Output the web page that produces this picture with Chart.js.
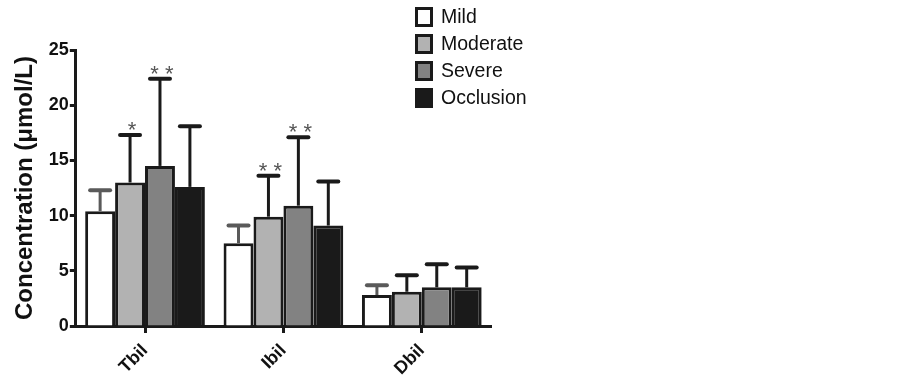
<!DOCTYPE html>
<html>
<head>
<meta charset="utf-8">
<script src="https://cdn.jsdelivr.net/npm/chart.js@4/dist/chart.umd.min.js"></script>
<style>
  body { margin: 0; background: #fff; }
  #wrap { position: relative; width: 902px; height: 384px; }
  #legend { position: absolute; left: 415px; top: 3px; font-family: "Liberation Sans", Arial, sans-serif; font-size: 19.5px; color: #111; }
  .item { display: flex; align-items: center; height: 27px; }
  .box { width: 12px; height: 14px; border: 3px solid #1a1a1a; margin-right: 8px; }
</style>
</head>
<body>
<div id="wrap">
  <canvas id="bilChart" width="902" height="384"></canvas>
  <div id="legend"></div>
</div>
<script>
var categories = ['Tbil', 'Ibil', 'Dbil'];
var seriesNames = ['Mild', 'Moderate', 'Severe', 'Occlusion'];
var mild = [10.4, 7.5, 2.8];
var moderate = [13.0, 9.9, 3.1];
var severe = [14.5, 10.9, 3.5];
var occlusion = [12.6, 9.1, 3.5];
// upper end of each error bar
var mildTop = [12.3, 9.1, 3.7];
var moderateTop = [17.3, 13.6, 4.6];
var severeTop = [22.4, 17.1, 5.6];
var occlusionTop = [18.1, 13.1, 5.3];
// significance marks
var mildStars = ['', '', ''];
var moderateStars = ['*', '* *', ''];
var severeStars = ['* *', '* *', ''];
var occlusionStars = ['', '', ''];
var yTicks = [0, 5, 10, 15, 20, 25];

var fills = ['#ffffff', '#b2b2b2', '#828282', '#1a1a1a'];
var errColors = ['#5a5a5a', '#1a1a1a', '#1a1a1a', '#1a1a1a'];
var values = [mild, moderate, severe, occlusion];
var tops = [mildTop, moderateTop, severeTop, occlusionTop];
var stars = [mildStars, moderateStars, severeStars, occlusionStars];

var legend = document.getElementById('legend');
seriesNames.forEach(function (name, i) {
    var row = document.createElement('div');
    row.className = 'item';
    var box = document.createElement('div');
    box.className = 'box';
    box.style.background = fills[i];
    row.appendChild(box);
    row.appendChild(document.createTextNode(name));
    legend.appendChild(row);
});

var errorBars = {
    id: 'errorBars',
    afterDatasetsDraw: function (chart) {
        var ctx = chart.ctx;
        var y = chart.scales.y;
        ctx.save();
        chart.data.datasets.forEach(function (ds, i) {
            var meta = chart.getDatasetMeta(i);
            meta.data.forEach(function (bar, j) {
                var yTop = y.getPixelForValue(tops[i][j]);
                ctx.strokeStyle = errColors[i];
                ctx.lineWidth = 3;
                ctx.beginPath();
                ctx.moveTo(bar.x, bar.y);
                ctx.lineTo(bar.x, yTop);
                ctx.stroke();
                ctx.lineWidth = 4;
                ctx.lineCap = 'round';
                ctx.beginPath();
                ctx.moveTo(bar.x - 10, yTop);
                ctx.lineTo(bar.x + 10, yTop);
                ctx.stroke();
                ctx.lineCap = 'butt';
                if (stars[i][j]) {
                    ctx.fillStyle = '#555';
                    ctx.font = '22px "Liberation Sans", Arial, sans-serif';
                    ctx.textAlign = 'center';
                    ctx.textBaseline = 'alphabetic';
                    ctx.fillText(stars[i][j], bar.x + 2, yTop + 2);
                }
            });
        });
        ctx.restore();
    }
};

var ctx = document.getElementById('bilChart').getContext('2d');
var bilChart = new Chart(ctx, {
    type: 'bar',
    data: {
        labels: categories,
        datasets: seriesNames.map(function (name, i) {
            return {
                label: name,
                data: values[i],
                backgroundColor: fills[i],
                borderColor: '#1a1a1a',
                borderWidth: 3,
                borderSkipped: 'bottom',
                barPercentage: 1.0,
                categoryPercentage: 0.865
            };
        })
    },
    options: {
        responsive: false,
        animation: false,
        layout: { padding: { top: 50, right: 411, bottom: 0, left: 11 } },
        plugins: { legend: { display: false }, tooltip: { enabled: false } },
        scales: {
            x: {
                afterFit: function (axis) { axis.height = 58; },
                grid: { offset: false, drawOnChartArea: false, tickLength: 7, tickWidth: 3, tickColor: '#1a1a1a' },
                border: { color: '#1a1a1a', width: 3 },
                ticks: {
                    color: '#111', padding: 7,
                    maxRotation: 45, minRotation: 45,
                    font: { family: '"Liberation Sans", Arial, sans-serif', size: 18, weight: 'bold' }
                }
            },
            y: {
                min: 0, max: 25,
                afterBuildTicks: function (axis) {
                    axis.ticks = yTicks.map(function (v) { return { value: v }; });
                },
                grid: { drawOnChartArea: false, tickLength: 6, tickWidth: 3, tickColor: '#1a1a1a' },
                border: { color: '#1a1a1a', width: 3 },
                ticks: {
                    color: '#111', padding: 1,
                    font: { family: '"Liberation Sans", Arial, sans-serif', size: 18, weight: 'bold' }
                },
                title: {
                    display: true,
                    text: 'Concentration (\u03bcmol/L)',
                    color: '#111',
                    padding: { top: 0, bottom: 8 },
                    font: { family: '"Liberation Sans", Arial, sans-serif', size: 24, weight: 'bold' }
                }
            }
        }
    },
    plugins: [errorBars]
});
</script>
</body>
</html>
